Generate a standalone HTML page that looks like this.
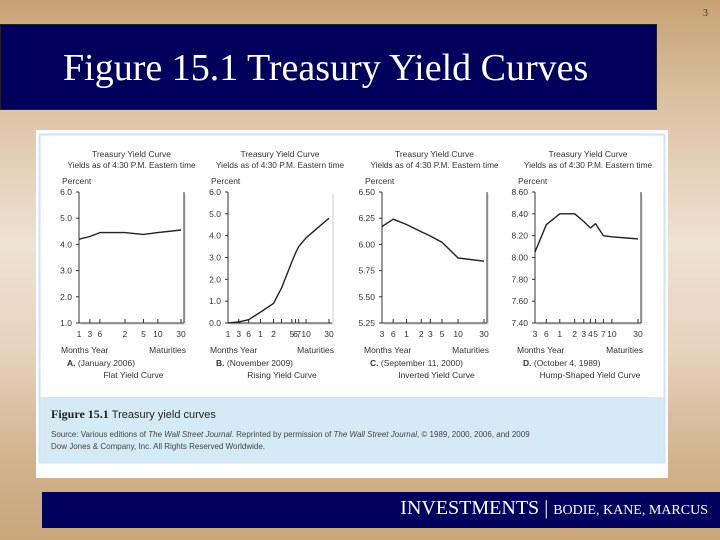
<!DOCTYPE html>
<html><head><meta charset="utf-8"><style>
html,body{margin:0;padding:0;width:720px;height:540px;overflow:hidden}
body{background:linear-gradient(180deg,#c6a274 0%,#dcc3a5 20%,#eee2d3 45%,#e6d3bd 65%,#d2b38d 85%,#c9a67c 100%);position:relative;font-family:"Liberation Sans",sans-serif}
#title{position:absolute;left:0;top:24px;width:655px;height:84px;background:#00005c;border:1px solid #222}
#title span{position:absolute;left:62px;top:21px;color:#fff;font-family:"Liberation Serif",serif;font-size:38px;white-space:nowrap}
#num{position:absolute;left:703px;top:8px;font-family:"Liberation Serif",serif;font-size:10px;color:#333}
#fig{position:absolute;left:36px;top:130px;width:632px;height:348px;background:#fff}
#footer{position:absolute;left:42px;top:492px;width:678px;height:36px;background:#00005c}
#footer span{position:absolute;right:12px;top:5px;color:#fff;font-family:"Liberation Serif",serif;font-size:20px;white-space:nowrap}
#footer small{font-size:14px}
svg{position:absolute;left:0;top:0}
</style></head><body>
<div id="title"><span>Figure 15.1 Treasury Yield Curves</span></div>
<div id="num">3</div>
<div id="fig"></div>
<div id="footer"><span>INVESTMENTS <span style="position:static;font-size:20px">|</span> <small>BODIE, KANE, MARCUS</small></span></div>
<svg id="chart" width="720" height="540"></svg>
<script>
// Panel A
const aMat=[1,3,6,24,60,120,360];
const aLabels=["1","3","6","2","5","10","30"];
const aVals=[4.2,4.3,4.45,4.45,4.38,4.45,4.55];
const aTicks=["6.0","5.0","4.0","3.0","2.0","1.0"];
// Panel B
const bMat=[1,3,6,12,24,36,60,72,84,120,360];
const bLabels=["1","3","6","1","2","","5","6","7","10","30"];
const bVals=[0.0,0.05,0.15,0.5,0.9,1.6,2.8,3.2,3.5,3.9,4.8];
const bTicks=["6.0","5.0","4.0","3.0","2.0","1.0","0.0"];
// Panel C
const cMat=[3,6,12,24,36,60,120,360];
const cLabels=["3","6","1","2","3","5","10","30"];
const cVals=[6.17,6.24,6.19,6.12,6.08,6.02,5.87,5.84];
const cTicks=["6.50","6.25","6.00","5.75","5.50","5.25"];
// Panel D
const dMat=[3,6,12,24,36,48,60,84,120,360];
const dLabels=["3","6","1","2","3","4","5","7","10","30"];
const dVals=[8.05,8.30,8.40,8.40,8.33,8.27,8.31,8.20,8.19,8.17];
const dTicks=["8.60","8.40","8.20","8.00","7.80","7.60","7.40"];

const NS="http://www.w3.org/2000/svg";
const svg=document.getElementById('chart');
function el(tag,attrs,parent){const e=document.createElementNS(NS,tag);for(const k in attrs)e.setAttribute(k,attrs[k]);(parent||svg).appendChild(e);return e;}
function txt(x,y,s,opts,parent){const t=el('text',Object.assign({x:x,y:y,'font-size':8.5,fill:'#333','font-family':'Liberation Sans, sans-serif'},opts||{}),parent);t.textContent=s;return t;}

const band=el('rect',{x:40,y:397,width:624,height:65,fill:'#d4ebf6'});


const frame=el('rect',{x:39.5,y:134.5,width:625,height:328,fill:'none',stroke:'#cfe6f2','stroke-width':2});


const cap=txt(51,418,'',{'font-size':12,fill:'#222','font-family':'Liberation Serif, serif'});
cap.innerHTML='<tspan font-weight="bold">Figure 15.1</tspan>  <tspan font-family="Liberation Sans, sans-serif" font-size="11">Treasury yield curves</tspan>';


const src1=txt(51,437,'',{'font-size':8,fill:'#444'});
src1.innerHTML='Source: Various editions of <tspan font-style="italic">The Wall Street Journal</tspan>. Reprinted by permission of <tspan font-style="italic">The Wall Street Journal</tspan>, © 1989, 2000, 2006, and 2009';


const src2=txt(51,449,'Dow Jones & Company, Inc. All Rights Reserved Worldwide.',{'font-size':8,fill:'#444'});



function panel(key,left,right,mats,labels,vals,ticks,ymin,ymax,letter,date,kind,rightBorder){
  const top=192,bottom=323,w=right-left;
  const g=el('g',{});
  
  
  const f=m=>Math.log(m+2);
  const x=m=>left+(f(m)-f(mats[0]))/(f(mats[mats.length-1])-f(mats[0]))*(w-3);
  const y=v=>bottom-(v-ymin)/(ymax-ymin)*(bottom-top);
  const cx=(left+right)/2;
  el('rect',{x:left+2,y:top+2,width:w,height:bottom-top,fill:'#e6e6e6'},g);
  el('rect',{x:left,y:top,width:w,height:bottom-top,fill:'#fff'},g);
  const t1=txt(cx,157,'Treasury Yield Curve',{'text-anchor':'middle'},g);
  
  
  txt(cx,168,'Yields as of 4:30 P.M. Eastern time',{'text-anchor':'middle','font-size':8.3},g);
  txt(left-17,184,'Percent',{},g);
  el('line',{x1:left,y1:top,x2:left,y2:bottom,stroke:'#333','stroke-width':1},g);
  el('line',{x1:left,y1:bottom,x2:right,y2:bottom,stroke:'#333','stroke-width':1},g);
  if(rightBorder)el('line',{x1:right,y1:top,x2:right,y2:bottom,stroke:'#333','stroke-width':1},g);
  ticks.forEach((s,i)=>{
    const v=ymax-(ymax-ymin)*i/(ticks.length-1);
    const yy=y(v);
    const lt=txt(left-7,yy+3,s,{'text-anchor':'end'},g);
    
    
    el('line',{x1:left-3,y1:yy,x2:left,y2:yy,stroke:'#333'},g);
  });
  mats.forEach((m,i)=>{
    const xx=x(m);
    el('line',{x1:xx,y1:bottom,x2:xx,y2:bottom-4,stroke:'#333'},g);
    if(labels[i]!==''){const lt=txt(xx,337,labels[i],{'text-anchor':'middle'},g);
    
    }
  });
  const pts=mats.map((m,i)=>x(m).toFixed(1)+','+y(vals[i]).toFixed(1)).join(' ');
  const line=el('polyline',{points:pts,fill:'none',stroke:'#222','stroke-width':1.4,'stroke-linejoin':'round'},g);
  
  
  txt(left-18,353,'Months  Year',{},g);
  txt(right+2,353,'Maturities',{'text-anchor':'end'},g);
  const d=txt(left-12,366,'',{},g);
  d.innerHTML='<tspan font-weight="bold">'+letter+'</tspan> '+date;
  txt(cx+2,378,kind,{'text-anchor':'middle'},g);
}
panel('a',79,184,aMat,aLabels,aVals,aTicks,1,6,'A.','(January 2006)','Flat Yield Curve',true);
panel('b',228,332,bMat,bLabels,bVals,bTicks,0,6,'B.','(November 2009)','Rising Yield Curve',false);
panel('c',382,487,cMat,cLabels,cVals,cTicks,5.25,6.5,'C.','(September 11, 2000)','Inverted Yield Curve',true);
panel('d',535,641,dMat,dLabels,dVals,dTicks,7.4,8.6,'D.','(October 4, 1989)','Hump-Shaped Yield Curve',true);
</script>
</body></html>
